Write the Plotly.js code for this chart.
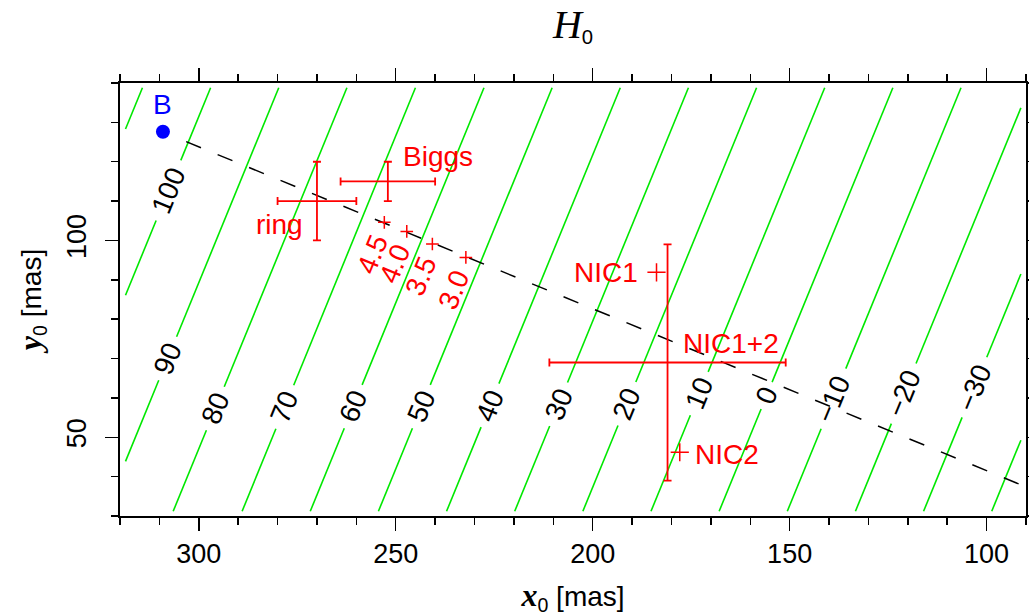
<!DOCTYPE html>
<html>
<head>
<meta charset="utf-8">
<script src="https://cdn.plot.ly/plotly-3.0.1.min.js"></script>
<style>
  html, body { margin: 0; padding: 0; background: #fff; }
  #plot { width: 1029px; height: 616px; }
</style>
</head>
<body>
<div id="plot"></div>
<script>
// H0 contour levels; each contour is a straight line, given by its x0 where it
// meets the lower (y0 = 31.2) and upper (y0 = 138.8) edge of the computed grid
const levels    = [110, 100, 90, 80, 70, 60, 50, 40, 30, 20, 10, 0, -10, -20, -30, -40];
const xAtBottom = [358.4, 341.1, 323.8, 306.5, 289.0, 271.7, 254.4, 237.1, 219.8, 202.5, 185.2, 167.9, 150.6, 133.3, 116.0, 98.7];
const xAtTop    = [314.3, 297.0, 279.7, 262.4, 245.0, 227.6, 210.3, 193.0, 175.7, 158.4, 141.1, 123.8, 106.5, 89.2, 71.9, 54.6];
// y0 at which each contour carries its label (null: unlabelled)
const labelY    = [null, 112.7, 70.0, 57.3, 57.7, 57.8, 57.8, 58.1, 58.4, 58.5, 61.1, 60.6, 59.8, 61.1, 62.7, null];

// extent of the grid the contours were computed on
const gridX = [318.6, 91.3];
const gridY = [31.2, 138.8];

// line of constant H0 gradient through galaxy B
const dashX = [303.2, 90.0];
const dashY = [125.1, 37.4];

// positions predicted for several values of the model parameter
const trialLabels = ['4.5', '4.0', '3.5', '3.0'];
const trialX = [252.9, 247.2, 240.7, 232.2];
const trialY = [104.6, 102.3, 99.1, 95.7];

// measured positions with uncertainties
const measNames = ['ring', 'Biggs', 'NIC1+2'];
const measX    = [270, 252, 181];
const measY    = [110, 115, 69];
const measErrX = [10, 12, 30];
const measErrY = [10, 5, 30];

// single-epoch positions
const nicNames = ['NIC1', 'NIC2'];
const nicX = [183.8, 177.9];
const nicY = [91.9, 46.2];

// galaxy B
const galName = ['B'];
const galX = [309.1];
const galY = [127.6];

// ---------------------------------------------------------------------------
const W = 1029, H = 616;
const margin = {l: 120, r: 3, t: 83, b: 100};
const xRange = [320, 90], yRange = [30, 140];
const plotW = W - margin.l - margin.r, plotH = H - margin.t - margin.b;
const pxPerX = plotW / Math.abs(xRange[1] - xRange[0]);
const pxPerY = plotH / Math.abs(yRange[1] - yRange[0]);

const FONT = '"Liberation Sans", Arial, sans-serif';
const SERIF = 'Liberation Serif';
const GREEN = '#00e800', RED = '#ff0000', BLUE = '#0000ff';
const LABEL_SIZE = 28;

const cx = [], cy = [];
const annotations = [];

levels.forEach((lev, i) => {
  const xb = xAtBottom[i], xt = xAtTop[i];
  const xOf = y => xb + (xt - xb) * (y - gridY[0]) / (gridY[1] - gridY[0]);
  const yOf = x => gridY[0] + (x - xb) * (gridY[1] - gridY[0]) / (xt - xb);
  const y0 = Math.max(gridY[0], yOf(gridX[0]));
  const y1 = Math.min(gridY[1], yOf(gridX[1]));
  if (y0 >= y1) return;

  const dxPx = (xb - xt) * pxPerX;
  const dyPx = (gridY[1] - gridY[0]) * pxPerY;
  const lenPx = Math.hypot(dxPx, dyPx);
  const angle = Math.atan2(dyPx, dxPx) * 180 / Math.PI;

  const pieces = [];
  if (labelY[i] !== null) {
    const txt = String(lev).replace('-', '\u2212');
    const halfPx = (18 * txt.length + 11) / 2;
    const halfY = halfPx * (gridY[1] - gridY[0]) / lenPx;
    pieces.push([y0, labelY[i] - halfY], [labelY[i] + halfY, y1]);
    annotations.push({
      x: xOf(labelY[i]), y: labelY[i], xref: 'x', yref: 'y',
      text: txt, showarrow: false, textangle: -angle,
      xanchor: 'center', yanchor: 'middle',
      font: {family: FONT, size: LABEL_SIZE, color: '#000'}
    });
  } else {
    pieces.push([y0, y1]);
  }
  pieces.forEach(([a, b]) => {
    if (b <= a) return;
    cx.push(xOf(a), xOf(b), null);
    cy.push(a, b, null);
  });
});

// labels of the predicted positions, set below-left of each cross
const contourAngle = Math.atan2((gridY[1] - gridY[0]) * pxPerY, (xAtBottom[0] - xAtTop[0]) * pxPerX) * 180 / Math.PI;
trialLabels.forEach((t, i) => {
  annotations.push({
    x: trialX[i], y: trialY[i], xref: 'x', yref: 'y', text: t,
    showarrow: false, textangle: -contourAngle,
    xanchor: 'center', yanchor: 'middle', xshift: -12, yshift: -32,
    font: {family: FONT, size: LABEL_SIZE, color: RED}
  });
});

const measLabelPos = {
  'ring':   {xanchor: 'right', xshift: -12, yshift: -23},
  'Biggs':  {xanchor: 'left',  xshift: 13,  yshift: 25},
  'NIC1+2': {xanchor: 'left',  xshift: 13,  yshift: 19}
};
measNames.forEach((n, i) => {
  const p = measLabelPos[n];
  annotations.push({
    x: measX[i], y: measY[i], xref: 'x', yref: 'y', text: n, showarrow: false,
    xanchor: p.xanchor, yanchor: 'middle', xshift: p.xshift, yshift: p.yshift,
    font: {family: FONT, size: LABEL_SIZE, color: RED}
  });
});

const nicLabelPos = {
  'NIC1': {xanchor: 'right', xshift: -17, yshift: 0},
  'NIC2': {xanchor: 'left',  xshift: 13,  yshift: -2}
};
nicNames.forEach((n, i) => {
  const p = nicLabelPos[n];
  annotations.push({
    x: nicX[i], y: nicY[i], xref: 'x', yref: 'y', text: n, showarrow: false,
    xanchor: p.xanchor, yanchor: 'middle', xshift: p.xshift, yshift: p.yshift,
    font: {family: FONT, size: LABEL_SIZE, color: RED}
  });
});

annotations.push({
  x: galX[0], y: galY[0], xref: 'x', yref: 'y', text: galName[0], showarrow: false,
  xanchor: 'center', yanchor: 'middle', yshift: 27,
  font: {family: FONT, size: LABEL_SIZE, color: BLUE}
});

const traces = [
  {x: cx, y: cy, mode: 'lines', line: {color: GREEN, width: 1.6}, hoverinfo: 'skip'},
  {x: dashX, y: dashY, mode: 'lines', line: {color: '#000', width: 1.5, dash: '16px,18px'}},
  {x: trialX, y: trialY, mode: 'markers',
   marker: {symbol: 'cross-thin', size: 9, line: {color: RED, width: 1.5}}},
  {x: nicX, y: nicY, mode: 'markers',
   marker: {symbol: 'cross-thin', size: 13, line: {color: RED, width: 1.5}}},
  {x: measX, y: measY, mode: 'markers', marker: {size: 1, color: 'rgba(0,0,0,0)'},
   error_x: {type: 'data', array: measErrX, symmetric: true, color: RED, thickness: 1.8, width: 4},
   error_y: {type: 'data', array: measErrY, symmetric: true, color: RED, thickness: 1.8, width: 4}},
  {x: galX, y: galY, mode: 'markers', marker: {symbol: 'circle', size: 14, color: BLUE}}
];

const axisCommon = {
  showline: true, linecolor: '#000', linewidth: 2, mirror: 'ticks',
  ticks: 'outside', ticklen: 13, tickwidth: 1.5, tickcolor: '#000',
  showgrid: false, zeroline: false, autorange: false,
  tickfont: {family: FONT, size: 27, color: '#000'},
  minor: {dtick: 10, ticks: 'outside', ticklen: 7, tickwidth: 1.5, tickcolor: '#000', showgrid: false}
};

const layout = {
  width: W, height: H, margin: margin,
  paper_bgcolor: '#fff', plot_bgcolor: '#fff',
  showlegend: false,
  font: {family: FONT, size: 26, color: '#000'},
  title: {
    text: '<span style="font-family:' + SERIF + ';font-size:40px"><i>H</i></span><sub>0</sub>',
    xref: 'paper', x: 0.5, xanchor: 'center',
    yref: 'container', y: 0.955, yanchor: 'middle',
    font: {family: FONT, size: 29, color: '#000'}
  },
  xaxis: Object.assign({}, axisCommon, {
    range: xRange, tick0: 0, dtick: 50,
    title: {text: '<span style="font-family:' + SERIF + ';font-size:32px"><b><i>x</i></b></span><sub>0</sub> [mas]',
            font: {family: FONT, size: 28, color: '#000'}, standoff: 18}
  }),
  yaxis: Object.assign({}, axisCommon, {
    range: yRange, tick0: 0, dtick: 50, tickangle: -90, ticklabelstandoff: 8,
    title: {text: '<span style="font-family:' + SERIF + ';font-size:32px"><b><i>y</i></b></span><sub>0</sub> [mas]',
            font: {family: FONT, size: 28, color: '#000'}, standoff: 12}
  }),
  annotations: annotations
};

Plotly.newPlot('plot', traces, layout, {displayModeBar: false, staticPlot: true});
</script>
</body>
</html>
